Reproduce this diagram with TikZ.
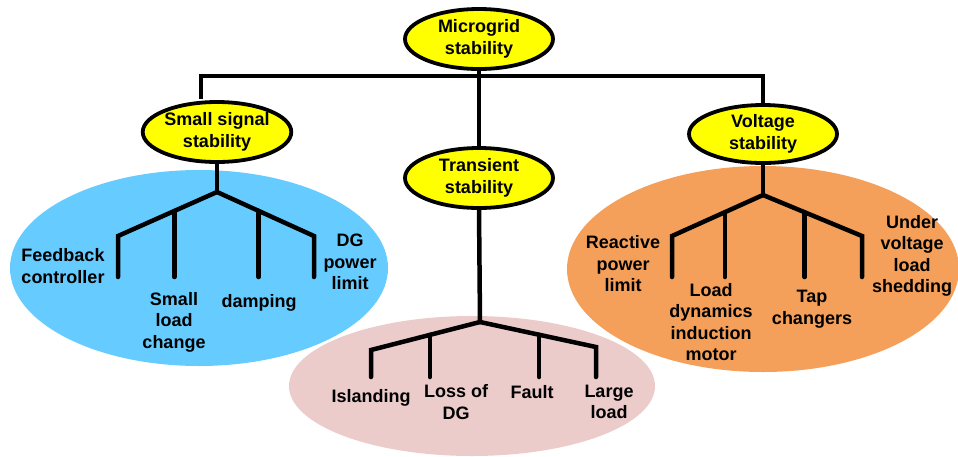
\documentclass[tikz,border=0pt]{standalone}
\usepackage{fontspec}
\setmainfont{Liberation Sans}
\usetikzlibrary{shapes.geometric,calc}
\definecolor{skyfill}{HTML}{66CCFF}
\definecolor{rosefill}{HTML}{ECCBCB}
\definecolor{peachfill}{HTML}{F4A05A}
\definecolor{headfill}{HTML}{FFFF00}
\begin{document}
\begin{tikzpicture}[x=1pt,y=-1pt,
  every node/.style={font=\fontsize{18}{21.5}\selectfont\bfseries, align=center, inner sep=0pt},
  head/.style={ellipse, draw=black, line width=3.8pt, fill=headfill, minimum width=148pt, minimum height=60pt},
  zone/.style={ellipse, minimum width=#1, inner sep=0pt},
  wire/.style={line width=3.8pt, black},
  branch/.style={line width=4.5pt, black, line cap=round, line join=miter}]
\useasboundingbox (0,0) rectangle (958,456);
% coloured background regions
\node[zone=378pt, minimum height=196pt, fill=skyfill] (zs) at (199,268) {};
\node[zone=366pt, minimum height=140pt, fill=rosefill] (zt) at (472,386) {};
\node[zone=392pt, minimum height=206pt, fill=peachfill] (zv) at (763,269) {};
% top level
\node[head] (mg) at (479,39) {Microgrid\\stability};
\node[head] (ss) at (217,132) {Small signal\\stability};
\node[head] (ts) at (479,178) {Transient\\stability};
\node[head, minimum height=58pt] (vs) at (763,134) {Voltage\\stability};
% connectors between the top-level ellipses
\coordinate (barL) at (201,76);
\coordinate (barR) at (763,76);
\draw[wire] (mg.south) -- (ts.north);
\draw[wire] ([yshift=1.2pt]barL |- ss.north) -- (barL) -- (barR) -- (vs.north);
% small signal subtree
\coordinate (sj) at (217,192);
\coordinate (sl) at (118,236);
\coordinate (sr) at (314,236);
\coordinate (sf) at (118,277);
\coordinate (sa) at ($(sj)!0.43!(sl)$);
\coordinate (sb) at ($(sj)!0.43!(sr)$);
\draw[branch] (ss.south) -- (sj);
\draw[branch] (sj) -- (sl) -- (sf);
\draw[branch] (sj) -- (sr) -- (sr |- sf);
\draw[branch] (sa) -- (sa |- sf);
\draw[branch] (sb) -- (sb |- sf);
\node (t1) at (63,266) {Feedback\\controller};
\node (t2) at (174,322) {Small\\load\\change};
\node (t3) at (259,303) {damping};
\node (t4) at (350,262) {DG\\power\\limit};
% transient subtree
\coordinate (tj) at (480,322);
\coordinate (tl) at (371,350);
\coordinate (tr) at (596,347);
\coordinate (tf) at (371,377);
\coordinate (ta) at ($(tj)!0.46!(tl)$);
\coordinate (tb) at ($(tj)!0.51!(tr)$);
\draw[branch] (ts.south) -- (tj);
\draw[branch] (tj) -- (tl) -- (tf);
\draw[branch] (tj) -- (tr) -- (tr |- tf);
\draw[branch] (ta) -- (ta |- tf);
\draw[branch] (tb) -- (tb |- tf);
\node (p1) at (371,398) {Islanding};
\node (p2) at (456,402) {Loss of\\DG};
\node (p3) at (532,392) {Fault};
\node (p4) at (609,402) {Large\\load};
% voltage subtree
\coordinate (vj) at (763,195);
\coordinate (vl) at (672,236);
\coordinate (vr) at (862,236);
\coordinate (vf) at (672,277);
\coordinate (va) at ($(vj)!0.42!(vl)$);
\coordinate (vb) at ($(vj)!0.42!(vr)$);
\draw[branch] (vs.south) -- (vj);
\draw[branch] (vj) -- (vl) -- (vf);
\draw[branch] (vj) -- (vr) -- (vr |- vf);
\draw[branch] (va) -- (va |- vf);
\draw[branch] (vb) -- (vb |- vf);
\node (o1) at (623,264) {Reactive\\power\\limit};
\node (o2) at (711,322) {Load\\dynamics\\induction\\motor};
\node (o3) at (812,309) {Tap\\changers};
\node (o4) at (912,256) {Under\\voltage\\load\\shedding};
\end{tikzpicture}
\end{document}
